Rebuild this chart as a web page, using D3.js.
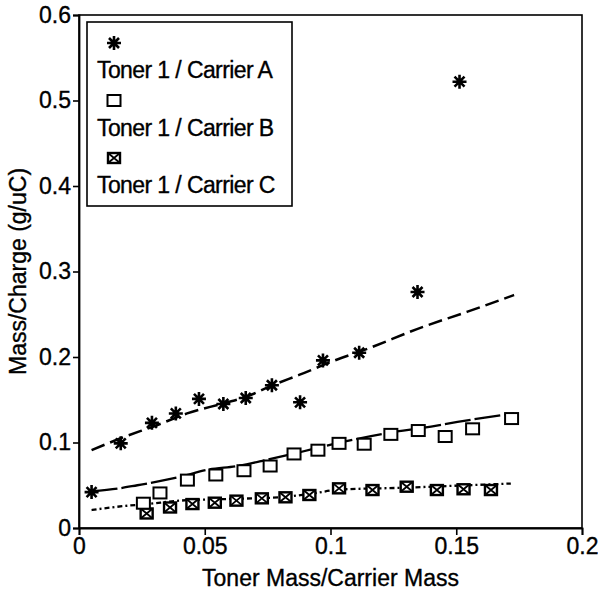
<!DOCTYPE html>
<html>
<head>
<meta charset="utf-8">
<script src="https://cdn.jsdelivr.net/npm/d3@7"></script>
<style>
	body { margin: 0; background: #fff; }
	text { font-family: "Liberation Sans", Arial, sans-serif; fill: #000; stroke: #000; stroke-width: 0.35px; }
</style>
</head>
<body>
<div id="chart"></div>
<script>
// measured points, [toner/carrier, mass/charge]
var carrierA = [[0.005, 0.042], [0.0166, 0.099], [0.029, 0.123], [0.0385, 0.134], [0.0477, 0.151],
	[0.0574, 0.145], [0.0663, 0.152], [0.0767, 0.167], [0.0879, 0.147], [0.097, 0.196],
	[0.1114, 0.205], [0.1346, 0.276], [0.1513, 0.522]];
var carrierB = [[0.0256, 0.029], [0.0322, 0.041], [0.0431, 0.056], [0.0544, 0.062], [0.0656, 0.067],
	[0.076, 0.0725], [0.0855, 0.0866], [0.095, 0.091], [0.1034, 0.099], [0.1134, 0.098],
	[0.124, 0.1095], [0.1349, 0.114], [0.1456, 0.107], [0.1565, 0.116], [0.172, 0.128]];
var carrierC = [[0.0269, 0.017], [0.0362, 0.024], [0.0451, 0.028], [0.054, 0.0296], [0.0626, 0.032],
	[0.0727, 0.0347], [0.0821, 0.0359], [0.0916, 0.0386], [0.1034, 0.0464], [0.1167, 0.0444],
	[0.1303, 0.0483], [0.1423, 0.0444], [0.1529, 0.0453], [0.1638, 0.0444]];

// smoothed fit curves
var fitA = [[0.005, 0.091], [0.0166, 0.105], [0.0312, 0.1205], [0.043, 0.134], [0.0577, 0.146],
	[0.067, 0.154], [0.077, 0.167], [0.0875, 0.179], [0.104, 0.1985], [0.1114, 0.206],
	[0.137, 0.2355], [0.1545, 0.253], [0.173, 0.2725]];
var fitB = [[0.005, 0.043], [0.0153, 0.046], [0.0232, 0.050], [0.0325, 0.055], [0.0405, 0.060],
	[0.051, 0.068], [0.063, 0.0725], [0.075, 0.080], [0.0855, 0.087], [0.1054, 0.101],
	[0.1227, 0.111], [0.140, 0.1185], [0.1505, 0.124], [0.173, 0.134]];
var fitC = [[0.005, 0.021], [0.018, 0.0257], [0.0272, 0.028], [0.040, 0.032], [0.060, 0.034],
	[0.080, 0.036], [0.092, 0.040], [0.104, 0.045], [0.128, 0.047], [0.1545, 0.050], [0.1717, 0.052]];

var seriesNames = ["Toner 1 / Carrier A", "Toner 1 / Carrier B", "Toner 1 / Carrier C"];
var xTicks = [0, 0.05, 0.1, 0.15, 0.2];
var yTicks = [0, 0.1, 0.2, 0.3, 0.4, 0.5, 0.6];

var margin = { top: 15, right: 16, bottom: 62, left: 79 };
var width = 598 - margin.left - margin.right;
var height = 590 - margin.top - margin.bottom;

var x = d3.scaleLinear().domain([0, 0.2]).range([0, width]);
var y = d3.scaleLinear().domain([0, 0.6]).range([height, 0]);

var svg = d3.select("#chart")
  .append("svg")
	.attr("width", 598)
	.attr("height", 590);

var chart = svg.append("g")
	.attr("transform", "translate(" + margin.left + "," + margin.top + ")");

// frame (top and right edges)
chart.append("rect")
	.attr("x", 0).attr("y", 0)
	.attr("width", width).attr("height", height)
	.style("fill", "none")
	.style("stroke", "#000")
	.style("stroke-width", 1.6);

// axes
var xAxis = d3.axisBottom(x).tickValues(xTicks).tickSize(7).tickPadding(3)
	.tickFormat(function(d) { return d === 0 ? "0" : String(d); });
var yAxis = d3.axisLeft(y).tickValues(yTicks).tickSize(6).tickPadding(2)
	.tickFormat(function(d) { return d === 0 ? "0" : String(d); });

var gx = chart.append("g")
	.attr("transform", "translate(0," + height + ")")
	.call(xAxis);
var gy = chart.append("g").call(yAxis);

[gx, gy].forEach(function(g) {
	g.select(".domain").style("stroke-width", 1.8);
	g.selectAll(".tick line").style("stroke-width", 1.6);
	g.selectAll(".tick text")
		.style("font-size", "23px")
		.style("font-family", "'Liberation Sans', Arial, sans-serif");
});

// axis titles
chart.append("text")
	.attr("x", width / 2)
	.attr("y", height + 58)
	.attr("text-anchor", "middle")
	.style("font-size", "23px")
	.text("Toner Mass/Carrier Mass");

chart.append("text")
	.attr("transform", "translate(" + (-53) + "," + (height / 2) + ") rotate(-90)")
	.attr("text-anchor", "middle")
	.style("font-size", "23px")
	.text("Mass/Charge (g/uC)");

// fit curves
var line = d3.line()
	.x(function(d) { return x(d[0]); })
	.y(function(d) { return y(d[1]); })
	.curve(d3.curveMonotoneX);

var fits = [
	{ data: fitA, dash: "14,6", w: 2.5 },
	{ data: fitB, dash: "26,4", w: 2.3 },
	{ data: fitC, dash: "5,3,2,3", w: 2.3 }
];

fits.forEach(function(f) {
	chart.append("path")
		.datum(f.data)
		.attr("d", line)
		.style("fill", "none")
		.style("stroke", "#000")
		.style("stroke-width", f.w)
		.style("stroke-dasharray", f.dash);
});

// marker shapes
function drawAsterisk(g) {
	var r = 7, d = 5;
	g.append("path")
		.attr("d", "M" + (-r) + ",0H" + r + "M0," + (-r) + "V" + r +
			"M" + (-d) + "," + (-d) + "L" + d + "," + d + "M" + (-d) + "," + d + "L" + d + "," + (-d))
		.style("stroke", "#000")
		.style("stroke-width", 2.6)
		.style("fill", "none");
}

function drawSquare(g) {
	g.append("rect")
		.attr("x", -6.5).attr("y", -5.5)
		.attr("width", 13).attr("height", 11)
		.style("fill", "#fff")
		.style("stroke", "#000")
		.style("stroke-width", 2);
}

function drawBoxX(g) {
	g.append("rect")
		.attr("x", -6).attr("y", -5)
		.attr("width", 12).attr("height", 10)
		.style("fill", "#fff")
		.style("stroke", "#000")
		.style("stroke-width", 2.4);
	g.append("path")
		.attr("d", "M-6,-5L6,5M-6,5L6,-5")
		.style("stroke", "#000")
		.style("stroke-width", 1.8);
}

var markers = [drawAsterisk, drawSquare, drawBoxX];
var allSeries = [carrierA, carrierB, carrierC];

// draw C first so B squares sit on top, A last
[2, 1, 0].forEach(function(i) {
	chart.selectAll(".pt" + i)
		.data(allSeries[i])
	  .enter().append("g")
		.attr("class", "pt" + i)
		.attr("transform", function(d) { return "translate(" + x(d[0]) + "," + y(d[1]) + ")"; })
		.each(function() { markers[i](d3.select(this)); });
});

// legend
var legend = svg.append("g")
	.attr("transform", "translate(87,22)");

legend.append("rect")
	.attr("width", 205)
	.attr("height", 184)
	.style("fill", "#fff")
	.style("stroke", "#000")
	.style("stroke-width", 1.6);

seriesNames.forEach(function(name, i) {
	var row = legend.append("g")
		.attr("transform", "translate(0," + (i * 57.5) + ")");
	var m = row.append("g").attr("transform", "translate(27,21)");
	markers[i](m);
	row.append("text")
		.attr("x", 10)
		.attr("y", 56)
		.style("font-size", "23px")
		.style("letter-spacing", "-0.6px")
		.text(name);
});
</script>
</body>
</html>
